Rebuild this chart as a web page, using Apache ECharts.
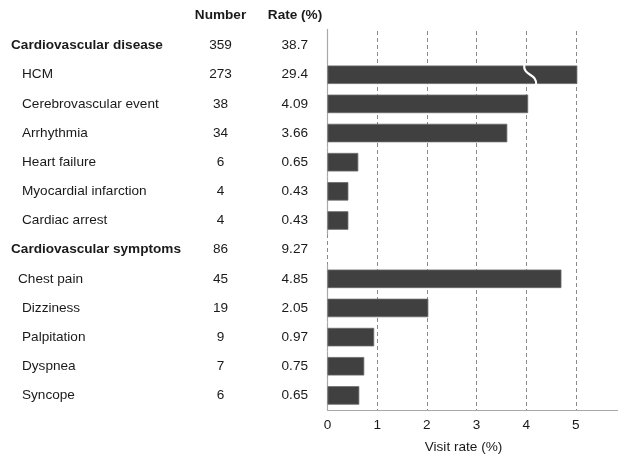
<!DOCTYPE html>
<html>
<head>
<meta charset="utf-8">
<script src="https://cdn.jsdelivr.net/npm/echarts@6/dist/echarts.min.js"></script>
<style>html,body{margin:0;padding:0;background:#fff}#c{width:618px;height:457px}</style>
</head>
<body>
<div id="c"></div>
<script>
var categories = ['Cardiovascular disease','HCM','Cerebrovascular event','Arrhythmia','Heart failure','Myocardial infarction','Cardiac arrest','Cardiovascular symptoms','Chest pain','Dizziness','Palpitation','Dyspnea','Syncope'];
var isHeader = [true,false,false,false,false,false,false,true,false,false,false,false,false];
var numbers = ['359','273','38','34','6','4','4','86','45','19','9','7','6'];
var rates = ['38.7','29.4','4.09','3.66','0.65','0.43','0.43','9.27','4.85','2.05','0.97','0.75','0.65'];
var barValues = [null,5.03,4.04,3.62,0.62,0.42,0.42,null,4.71,2.03,0.94,0.74,0.64];
var breakMarks = [[4.08,'HCM']];
var axisGapRows = ['Cardiovascular symptoms'];
var xTicks = [0,1,2,3,4,5,6];

var FONT = 'Liberation Sans, Arial, sans-serif';
var FS = 13.6;
var TXT = '#1a1a1a';

var axisSegData = categories.filter(function (c) { return axisGapRows.indexOf(c) < 0; })
  .map(function (c) { return [0, c]; });

var chart = echarts.init(document.getElementById('c'));
chart.setOption({
  animation: false,
  grid: {left: 327.5, width: 298, top: 31, bottom: 47, containLabel: false, outerBoundsMode: 'none'},
  xAxis: {
    type: 'value', min: xTicks[0], max: xTicks[xTicks.length-1], interval: 1,
    axisLine: {show: true, lineStyle: {color: '#a8a8a8', width: 1.2}},
    axisTick: {show: false},
    axisLabel: {color: TXT, fontSize: FS, fontFamily: FONT, margin: 8},
    splitLine: {show: true, lineStyle: {color: '#8a8a8a', type: [4,3], width: 1}},
    name: 'Visit rate (%)', nameLocation: 'middle', nameGap: 30,
    nameTextStyle: {color: TXT, fontSize: FS, fontFamily: FONT, padding: [0, 26, 0, 0]}
  },
  yAxis: [
    {
      type: 'category', data: categories, inverse: true,
      axisLine: {show: false},
      axisTick: {show: false},
      axisLabel: {
        align: 'left', margin: 316.5, interval: 0,
        formatter: function (v, i) {
          if (isHeader[i]) return '{h|' + v + '}';
          if (v === 'Chest pain') return '{c|' + v + '}';
          return '{s|' + v + '}';
        },
        rich: {
          h: {fontWeight: 'bold', fontSize: FS, fontFamily: FONT, color: TXT},
          s: {fontSize: FS, fontFamily: FONT, color: TXT, padding: [0,0,0,11]},
          c: {fontSize: FS, fontFamily: FONT, color: TXT, padding: [0,0,0,7]}
        }
      }
    },
    {
      type: 'category', data: categories, inverse: true, position: 'left', offset: 107,
      axisLine: {show: false}, axisTick: {show: false},
      axisLabel: {align: 'center', margin: 0, interval: 0, color: TXT, fontSize: FS, fontFamily: FONT,
        formatter: function (v, i) { return numbers[i]; }},
      name: 'Number', nameLocation: 'start', nameGap: 9,
      nameTextStyle: {fontWeight: 'bold', color: TXT, fontSize: FS, fontFamily: FONT, align: 'center'}
    },
    {
      type: 'category', data: categories, inverse: true, position: 'left', offset: 32.5,
      axisLine: {show: false}, axisTick: {show: false},
      axisLabel: {align: 'right', margin: -13, interval: 0, color: TXT, fontSize: FS, fontFamily: FONT,
        formatter: function (v, i) { return rates[i]; }},
      name: 'Rate (%)', nameLocation: 'start', nameGap: 9,
      nameTextStyle: {fontWeight: 'bold', color: TXT, fontSize: FS, fontFamily: FONT, align: 'center'}
    }
  ],
  series: [
    {
      type: 'custom', yAxisIndex: 0, data: axisSegData, z: 3, silent: true,
      renderItem: function (params, api) {
        var p = api.coord([api.value(0), api.value(1)]);
        var bw = api.size([0, 1])[1];
        var top = p[1] - bw / 2, bot = p[1] + bw / 2;
        if (params.dataIndex === 0) top -= 2;
        return {
          type: 'line',
          shape: {x1: p[0], y1: top, x2: p[0], y2: bot},
          style: {stroke: '#a8a8a8', lineWidth: 1.2}
        };
      }
    },
    {
      type: 'bar', yAxisIndex: 0, data: barValues, barWidth: 18.5, z: 4,
      itemStyle: {color: '#404040', borderColor: '#6a6a6a', borderWidth: 0.8}
    },
    {
      type: 'custom', yAxisIndex: 0, data: breakMarks, z: 10,
      renderItem: function (params, api) {
        var p = api.coord([api.value(0), api.value(1)]);
        var h = 18.5;
        var top = p[1] - h / 2 - 1, bot = p[1] + h / 2 + 1;
        var x0 = p[0] - 6, x1 = p[0] + 6;
        var mid = p[1];
        return {
          type: 'bezierCurve',
          shape: {x1: x0, y1: top, x2: x1, y2: bot, cpx1: x0 - 1, cpy1: mid + 2, cpx2: x1 + 1, cpy2: mid - 2},
          style: {stroke: '#fff', lineWidth: 2.2, fill: null}
        };
      }
    }
  ]
});
</script>
</body>
</html>
